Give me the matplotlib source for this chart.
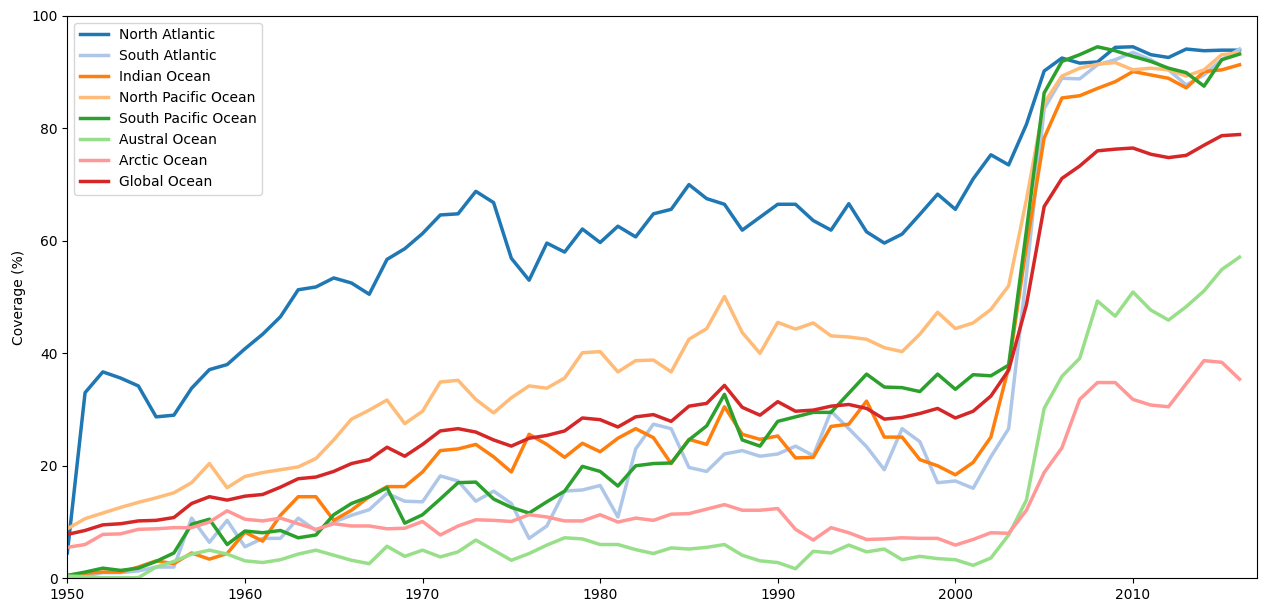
import numpy as np
import matplotlib
matplotlib.use('Agg')
import matplotlib.pyplot as plt

years = list(range(1950, 2017))

north_atlantic = [4.5, 33.0, 36.7, 35.6, 34.2, 28.7, 29.0, 33.8, 37.1, 38.0,
                  40.8, 43.4, 46.5, 51.3, 51.8, 53.4, 52.5, 50.5, 56.7, 58.6,
                  61.3, 64.6, 64.8, 68.8, 66.8, 56.9, 53.0, 59.6, 58.0, 62.1,
                  59.7, 62.6, 60.7, 64.8, 65.6, 70.0, 67.5, 66.5, 61.9, 64.2,
                  66.5, 66.5, 63.6, 61.9, 66.6, 61.6, 59.6, 61.2, 64.7, 68.3,
                  65.6, 71.0, 75.3, 73.5, 80.7, 90.2, 92.5, 91.6, 91.8, 94.4,
                  94.5, 93.1, 92.6, 94.1, 93.8, 93.9, 93.9]
south_atlantic = [0.3, 0.5, 1.0, 1.0, 1.3, 2.0, 2.0, 10.7, 6.4, 10.3,
                  5.6, 7.1, 7.1, 10.7, 8.5, 10.0, 11.2, 12.2, 15.1, 13.7,
                  13.6, 18.2, 17.3, 13.7, 15.5, 13.3, 7.1, 9.3, 15.5, 15.7,
                  16.5, 10.9, 23.0, 27.4, 26.6, 19.7, 19.0, 22.1, 22.7, 21.7,
                  22.1, 23.5, 21.8, 29.7, 26.6, 23.4, 19.3, 26.6, 24.3, 17.0,
                  17.3, 16.0, 21.6, 26.6, 54.0, 83.5, 88.9, 88.8, 91.3, 92.2,
                  93.5, 92.2, 90.4, 87.7, 89.5, 92.2, 94.1]
indian = [0.5, 0.9, 1.1, 1.1, 2.0, 3.1, 2.6, 4.5, 3.4, 4.4,
          8.2, 6.6, 11.2, 14.5, 14.5, 10.3, 12.1, 14.5, 16.3, 16.3,
          18.9, 22.7, 23.0, 23.8, 21.6, 18.9, 25.6, 23.8, 21.5, 24.0,
          22.5, 24.9, 26.6, 25.0, 20.4, 24.7, 23.8, 30.5, 25.6, 24.7,
          25.3, 21.4, 21.5, 27.0, 27.4, 31.5, 25.1, 25.1, 21.1, 20.0,
          18.4, 20.6, 25.1, 37.5, 59.0, 78.3, 85.4, 85.8, 87.1, 88.3,
          90.1, 89.5, 88.9, 87.2, 90.1, 90.4, 91.3]
north_pacific = [8.8, 10.6, 11.6, 12.6, 13.5, 14.3, 15.2, 17.0, 20.4, 16.1,
                 18.1, 18.8, 19.3, 19.8, 21.3, 24.6, 28.3, 29.9, 31.7, 27.5,
                 29.7, 34.9, 35.2, 31.8, 29.4, 32.1, 34.2, 33.8, 35.6, 40.1,
                 40.3, 36.7, 38.7, 38.8, 36.7, 42.5, 44.4, 50.1, 43.7, 40.0,
                 45.5, 44.3, 45.4, 43.1, 42.9, 42.5, 41.0, 40.3, 43.4, 47.3,
                 44.4, 45.4, 47.8, 52.0, 67.3, 84.5, 89.3, 90.7, 91.4, 91.7,
                 90.4, 90.7, 90.4, 89.3, 90.4, 93.1, 93.4]
south_pacific = [0.5, 1.1, 1.8, 1.4, 1.8, 3.0, 4.5, 9.6, 10.5, 6.0,
                 8.4, 8.1, 8.5, 7.2, 7.7, 11.3, 13.3, 14.5, 16.1, 9.8,
                 11.3, 14.1, 17.0, 17.1, 14.1, 12.6, 11.6, 13.6, 15.5, 19.9,
                 19.0, 16.4, 20.0, 20.4, 20.5, 24.6, 27.1, 32.7, 24.6, 23.5,
                 27.9, 28.7, 29.5, 29.5, 32.9, 36.3, 34.0, 33.9, 33.2, 36.3,
                 33.6, 36.2, 36.0, 37.9, 61.8, 86.3, 91.9, 93.1, 94.5, 93.8,
                 92.8, 91.9, 90.7, 89.9, 87.5, 92.2, 93.2]
austral = [0.4, 0.3, 0.1, 0.1, 0.1, 2.0, 3.0, 4.3, 5.0, 4.3,
           3.1, 2.8, 3.3, 4.3, 5.0, 4.1, 3.2, 2.6, 5.7, 3.9,
           5.0, 3.8, 4.7, 6.8, 5.0, 3.2, 4.4, 5.9, 7.2, 7.0,
           6.0, 6.0, 5.1, 4.4, 5.4, 5.2, 5.5, 6.0, 4.1, 3.1,
           2.8, 1.7, 4.8, 4.5, 5.9, 4.7, 5.2, 3.3, 3.9, 3.5,
           3.3, 2.3, 3.6, 7.7, 13.9, 30.2, 35.9, 39.1, 49.3, 46.6,
           50.9, 47.7, 45.9, 48.3, 51.1, 54.9, 57.1]
arctic = [5.5, 6.0, 7.8, 7.9, 8.7, 8.8, 9.0, 9.0, 10.0, 12.0,
          10.5, 10.2, 10.7, 9.7, 8.7, 9.7, 9.3, 9.3, 8.8, 8.9,
          10.1, 7.7, 9.3, 10.4, 10.3, 10.1, 11.3, 10.9, 10.2, 10.2,
          11.3, 10.0, 10.7, 10.3, 11.4, 11.5, 12.3, 13.1, 12.1, 12.1,
          12.4, 8.7, 6.8, 9.0, 8.1, 6.9, 7.0, 7.2, 7.1, 7.1,
          5.9, 6.9, 8.1, 8.0, 12.1, 18.8, 23.2, 31.8, 34.8, 34.8,
          31.8, 30.8, 30.5, 34.6, 38.7, 38.4, 35.4]
global_ocean = [7.8, 8.5, 9.5, 9.7, 10.2, 10.3, 10.8, 13.3, 14.5, 13.9,
                14.6, 14.9, 16.2, 17.7, 18.0, 19.0, 20.4, 21.1, 23.3, 21.7,
                23.8, 26.2, 26.6, 26.0, 24.6, 23.5, 24.9, 25.4, 26.2, 28.5,
                28.2, 26.9, 28.7, 29.1, 27.9, 30.6, 31.1, 34.3, 30.4, 29.0,
                31.4, 29.7, 29.9, 30.6, 30.9, 30.2, 28.3, 28.6, 29.3, 30.2,
                28.5, 29.7, 32.4, 37.0, 48.6, 66.1, 71.1, 73.3, 76.0, 76.3,
                76.5, 75.4, 74.8, 75.2, 77.0, 78.7, 78.9]

names = ['North Atlantic', 'South Atlantic', 'Indian Ocean', 'North Pacific Ocean',
         'South Pacific Ocean', 'Austral Ocean', 'Arctic Ocean', 'Global Ocean']
series = [north_atlantic, south_atlantic, indian, north_pacific,
          south_pacific, austral, arctic, global_ocean]
# tab20 pairs; Arctic gets the light red, Global the dark red
tab = plt.get_cmap('tab20').colors
colors = [tab[0], tab[1], tab[2], tab[3], tab[4], tab[5], tab[7], tab[6]]

fig = plt.figure(figsize=(12.7, 6.1), dpi=100)
ax = fig.add_axes([0.053, 0.052, 0.937, 0.922])
for name, vals, c in zip(names, series, colors):
    ax.plot(years, vals, color=c, lw=2.5, label=name)

ax.set_xlim(1950, 2017)
ax.set_ylim(0, 100)
ax.set_ylabel('Coverage (%)')
ax.legend(loc='upper left')
fig.savefig('out.png')
